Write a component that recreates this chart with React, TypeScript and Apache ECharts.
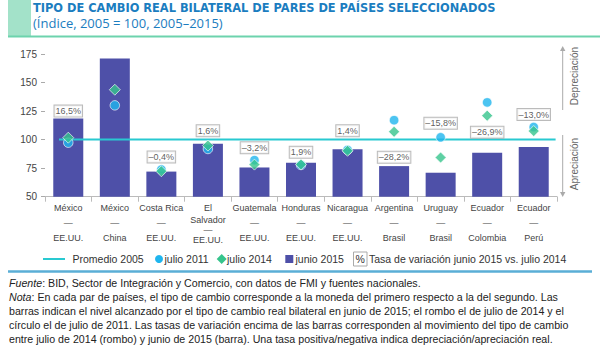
import React, { useEffect, useRef } from 'react';
import * as echarts from 'echarts';

const countries = ['México', 'México', 'Costa Rica', 'El Salvador', 'Guatemala', 'Honduras', 'Nicaragua', 'Argentina', 'Uruguay', 'Ecuador', 'Ecuador'];
const partners = ['EE.UU.', 'China', 'EE.UU.', 'EE.UU.', 'EE.UU.', 'EE.UU.', 'EE.UU.', 'Brasil', 'Brasil', 'Colombia', 'Perú'];
const junio2015 = [118.5, 171, 72, 96.3, 75.6, 79.8, 91.5, 76.8, 71, 88.5, 93.5];
const julio2014 = [101.7, 143.7, 72.3, 94.8, 78.1, 78.3, 90.2, 106.9, 84.3, 121, 107.5];
const julio2011 = [97.3, 130, 73.8, 91.8, 82, 77.8, 91, 117, 102, 132.6, 111];
const tasas = ['16,5%', '19,0%', '–0,4%', '1,6%', '–3,2%', '1,9%', '1,4%', '–28,2%', '–15,8%', '–26,9%', '–13,0%'];
const tasaLabelY = [125, 177.5, 84.8, 107.8, 92.9, 88.9, 107.8, 84.5, 114.3, 106.4, 122];
const promedio2005 = 100;
const promedioSpan = [-0.2, 10.47];
const yMin = 50;
const yMax = 175;
const yInterval = 25;

const C_BAR = '#4e50a8';
const C_CIRCLE = '#1fb5ee';
const C_DIAMOND = '#36c48c';
const C_LINE = '#29c9d1';
const FONT = '"Liberation Sans", Arial, sans-serif';
const TITLE_FONT = '"DejaVu Sans", "Open Sans", sans-serif';
const SUB_FONT = '"Open Sans", "Noto Sans", sans-serif';

const categories = countries.map((c, i) => c + ' / ' + partners[i]);

function catLabel(_v: string, i: number) {
  const c = countries[i];
  const p = partners[i];
  const words = c.split(' ');
  if (words.length > 1 && c.length > 10) {
    return `{a|${words[0]}}\n{b|${words.slice(1).join(' ')}}\n{b|—}\n{b|${p}}`;
  }
  return `{a|${c}}\n{a|—}\n{a|${p}}`;
}

export default function App() {
  const ref = useRef<HTMLDivElement>(null);
  useEffect(() => {
    if (!ref.current) return;
    const chart = echarts.init(ref.current, undefined, { renderer: 'svg' });
    const footY = [283, 297, 311, 325, 339];
    const footLines = [
      '{i|Fuente}: BID, Sector de Integración y Comercio, con datos de FMI y fuentes nacionales.',
      '{i|Nota}: En cada par de países, el tipo de cambio corresponde a la moneda del primero respecto a la del segundo. Las',
      'barras indican el nivel alcanzado por el tipo de cambio real bilateral en junio de 2015; el rombo el de julio de 2014 y el',
      'círculo el de julio de 2011. Las tasas de variación encima de las barras corresponden al movimiento del tipo de cambio',
      'entre julio de 2014 (rombo) y junio de 2015 (barra). Una tasa positiva/negativa indica depreciación/apreciación real.',
    ];
    const legendY = 259;
    const legendText = (x: number, t: string) => ({
      type: 'text', x, y: legendY,
      style: { text: t, fontSize: 10.5, fontFamily: FONT, fill: '#333', verticalAlign: 'middle' },
    });
    const graphic: any[] = [
      { type: 'rect', shape: { x: 8, y: 0, width: 23, height: 36 }, style: { fill: '#a3e2c9' } },
      { type: 'line', shape: { x1: 8, y1: 36.5, x2: 600, y2: 36.5 }, style: { stroke: '#6dd3ad', lineWidth: 2 } },
      { type: 'text', x: 33, y: 8, style: { text: 'TIPO DE CAMBIO REAL BILATERAL DE PARES DE PAÍSES SELECCIONADOS', fontSize: 11.4, lineHeight: 12, fontWeight: 'bold', fontFamily: TITLE_FONT, fill: '#1b7dc0', verticalAlign: 'middle' } },
      { type: 'text', x: 33, y: 22.5, style: { text: '(Índice, 2005 = 100, 2005–2015)', fontSize: 13, lineHeight: 13, fontFamily: SUB_FONT, fill: '#1b7dc0', verticalAlign: 'middle' } },
      // right side arrows
      { type: 'line', shape: { x1: 562.7, y1: 49, x2: 562.7, y2: 110 }, style: { stroke: '#aaa', lineWidth: 1 } },
      { type: 'polygon', shape: { points: [[562.7, 46], [560, 51], [565.4, 51]] }, style: { fill: '#aaa' } },
      { type: 'line', shape: { x1: 562.7, y1: 135, x2: 562.7, y2: 194 }, style: { stroke: '#aaa', lineWidth: 1 } },
      { type: 'polygon', shape: { points: [[562.7, 197], [560, 192], [565.4, 192]] }, style: { fill: '#aaa' } },
      { type: 'text', x: 574, y: 76, rotation: Math.PI / 2, style: { text: 'Depreciación', fontSize: 10, fontFamily: FONT, fill: '#666', align: 'center', verticalAlign: 'middle' } },
      { type: 'text', x: 574, y: 164, rotation: Math.PI / 2, style: { text: 'Apreciación', fontSize: 10, fontFamily: FONT, fill: '#666', align: 'center', verticalAlign: 'middle' } },
      // legend
      { type: 'line', shape: { x1: 43, y1: legendY, x2: 65, y2: legendY }, style: { stroke: C_LINE, lineWidth: 2 } },
      legendText(72.5, 'Promedio 2005'),
      { type: 'circle', shape: { cx: 159, cy: legendY, r: 4 }, style: { fill: C_CIRCLE } },
      legendText(164.5, 'julio 2011'),
      { type: 'polygon', shape: { points: [[221.7, legendY - 5], [226.7, legendY], [221.7, legendY + 5], [216.7, legendY]] }, style: { fill: C_DIAMOND } },
      legendText(227, 'julio 2014'),
      { type: 'rect', shape: { x: 285.3, y: legendY - 4, width: 8, height: 8 }, style: { fill: C_BAR } },
      legendText(295.5, 'junio 2015'),
      { type: 'rect', shape: { x: 353.5, y: legendY - 7, width: 13.5, height: 14 }, style: { fill: '#fff', stroke: '#aaa', lineWidth: 1 } },
      { type: 'text', x: 360.2, y: legendY, style: { text: '%', fontSize: 10.5, fontFamily: FONT, fill: '#333', align: 'center', verticalAlign: 'middle' } },
      legendText(369, 'Tasa de variación junio 2015 vs. julio 2014'),
      { type: 'line', shape: { x1: 8, y1: 271.5, x2: 592, y2: 271.5 }, style: { stroke: '#5aaed6', lineWidth: 2.5 } },
      ...footLines.map((t, i) => ({
        type: 'text', x: 9, y: footY[i],
        style: {
          text: t, fontSize: 10.65, fontFamily: FONT, fill: '#222', verticalAlign: 'middle', lineHeight: 13,
          rich: { i: { fontSize: 10.65, fontFamily: FONT, fontStyle: 'italic', fill: '#222', lineHeight: 13 } },
        },
      })),
    ];

    chart.setOption({
      animation: false,
      textStyle: { fontFamily: FONT },
      grid: { left: 45, right: 43, top: 54, bottom: 149.3 },
      xAxis: [
        {
          type: 'category',
          data: categories,
          axisLine: { onZero: false, lineStyle: { color: '#bbb' } },
          axisTick: { show: true, length: 5, lineStyle: { color: '#bbb' } },
          axisLabel: {
            interval: 0,
            margin: 3.4,
            formatter: catLabel,
            color: '#444',
            fontSize: 9,
            rich: {
              a: { fontSize: 9, lineHeight: 15.3, color: '#444', fontFamily: FONT },
              b: { fontSize: 9, lineHeight: 9.8, color: '#444', fontFamily: FONT },
            },
          },
        },
        {
          type: 'value', min: -0.5, max: 10.5, show: false, position: 'bottom',
          axisLine: { onZero: false },
        },
      ],
      yAxis: {
        type: 'value',
        min: yMin,
        max: yMax,
        interval: yInterval,
        axisLine: { show: false, onZero: false },
        axisTick: { show: true, length: 4, lineStyle: { color: '#aaa' } },
        splitLine: { show: false },
        axisLabel: { fontSize: 10, color: '#444', margin: 8 },
      },
      series: [
        {
          name: 'junio 2015', type: 'bar', data: junio2015, barWidth: 30,
          itemStyle: { color: C_BAR }, z: 1,
        },
        {
          name: 'Promedio 2005', type: 'line', xAxisIndex: 1,
          data: promedioSpan.map((x) => [x, promedio2005]),
          symbol: 'none', lineStyle: { color: C_LINE, width: 2 }, z: 2,
        },
        {
          name: 'julio 2011', type: 'scatter', data: julio2011, symbol: 'circle', symbolSize: 9.5,
          itemStyle: { color: C_CIRCLE, borderColor: '#fff', borderWidth: 0.8 }, z: 3,
        },
        {
          name: 'julio 2014', type: 'scatter', data: julio2014, symbol: 'diamond', symbolSize: 11,
          itemStyle: { color: C_DIAMOND, borderColor: '#fff', borderWidth: 0.8 }, z: 4,
        },
        {
          name: 'Tasa de variación', type: 'scatter', symbolSize: 0, z: 5,
          data: tasaLabelY.map((y, i) => ({ value: [i, y], label: { formatter: tasas[i] } })),
          label: {
            show: true, position: 'inside', fontSize: 9, color: '#333', fontFamily: FONT,
            backgroundColor: '#fff', borderColor: '#aaa', borderWidth: 1, padding: [1, 1, 0, 1], lineHeight: 10,
          },
          silent: true,
        },
      ],
      graphic,
    });
    return () => chart.dispose();
  }, []);
  return <div ref={ref} style={{ position: 'absolute', left: 0, top: 0, width: 600, height: 346, background: '#fff' }} />;
}
